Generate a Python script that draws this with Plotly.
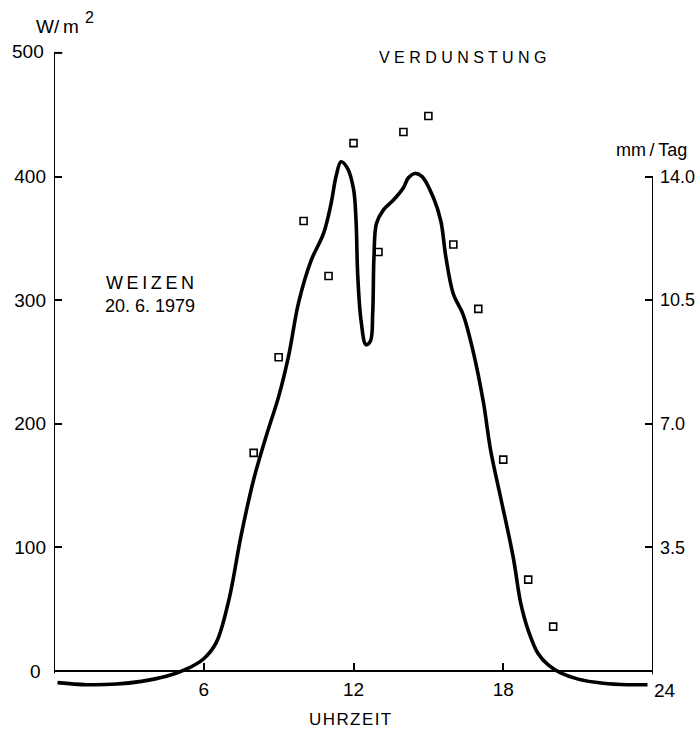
import plotly.graph_objects as go

# ---- data ----
curve_hour = [0.14, 1.3, 2.5, 3.5, 4.5, 5.3, 6.0, 6.5, 7.0, 7.5, 8.0, 8.5, 9.0, 9.4, 9.8,
              10.3, 10.8, 11.1, 11.3, 11.5, 11.75, 12.0, 12.1, 12.17, 12.3, 12.5, 12.68,
              12.77, 12.82, 12.92, 13.2, 13.6, 14.0, 14.2, 14.46, 14.75, 15.2, 15.5, 15.7,
              16.0, 16.4, 16.8, 17.2, 17.5, 17.9, 18.4, 18.7, 19.0, 19.4, 19.8, 20.3, 21.0,
              22.0, 23.0, 23.78]
curve_wm2 = [-9.3, -11, -10.5, -8.3, -4.2, 1.5, 10, 23, 57, 110, 155, 190, 222, 255, 298,
             332, 354, 378, 400, 412, 407, 390, 365, 320, 284, 264, 267,
             290, 335, 362, 373, 381, 391, 399, 402.5, 400, 383, 364, 335,
             305, 288, 258, 218, 178, 140, 92, 55, 33, 14, 5, -1.5, -6.5,
             -9.8, -11, -11]

meas_hour = [8, 9, 10, 11, 12, 13, 14, 15, 16, 17, 18, 19, 20]
meas_wm2 = [176.5, 253.8, 364, 319.5, 427, 339, 436, 449, 345, 293, 171, 74, 36]

left_ticks = [100, 200, 300, 400]
right_ticks = [3.5, 7.0, 10.5, 14.0]
right_tick_text = ["3.5", "7.0", "10.5", "14.0"]
x_ticks = [6, 12, 18]
WM2_PER_MM = 400 / 14.0  # 14 mm/Tag corresponds to 400 W/m2

# ---- layout geometry (screen pixels; page body margin removed by post_script) ----
W, H = 700, 733
L, R, T, B = 54, 47, 22, 31
YMIN, YMAX = -25, 525
PW, PH = W - L - R, H - T - B
FONT = "Liberation Sans, Arial, sans-serif"


def px(xs):
    return (xs - L) / PW


def py(ys):
    return (H - B - ys) / PH


fig = go.Figure()
fig.add_trace(go.Scatter(x=curve_hour, y=curve_wm2, mode="lines",
                         line=dict(color="black", width=3.6, shape="spline", smoothing=1.0),
                         hoverinfo="skip", showlegend=False))
fig.add_trace(go.Scatter(x=meas_hour, y=meas_wm2, mode="markers",
                         marker=dict(symbol="square-open", size=7, color="black",
                                     line=dict(width=1.6, color="black")),
                         showlegend=False))
# invisible trace to activate the right axis
fig.add_trace(go.Scatter(x=[None], y=[None], yaxis="y2", showlegend=False))

shapes = [
    dict(type="line", xref="x", yref="y", x0=0, x1=0, y0=-2, y1=500),
    dict(type="line", xref="x", yref="y", x0=0, x1=0.33, y0=500, y1=500),
    dict(type="line", xref="x", yref="y", x0=-0.18, x1=24, y0=0, y1=0),
    dict(type="line", xref="x", yref="y", x0=24, x1=24, y0=-2.5, y1=400),
]
for s in shapes:
    s["line"] = dict(color="black", width=2)
fig.update_layout(shapes=shapes)

xpos = (0 - YMIN) / (YMAX - YMIN)
tickfont = dict(family=FONT, size=19, color="black")
fig.update_layout(
    width=W, height=H,
    margin=dict(l=L, r=R, t=T, b=B, autoexpand=False),
    paper_bgcolor="white", plot_bgcolor="white",
    font=dict(family=FONT, size=19, color="black"),
    xaxis=dict(range=[0, 24], showgrid=False, zeroline=False, showline=False,
               anchor="free", position=xpos,
               tickmode="array", tickvals=x_ticks, ticktext=[str(v) for v in x_ticks],
               ticks="inside", ticklen=8, tickwidth=2, tickcolor="black", tickfont=tickfont,
               ticklabelstandoff=5, fixedrange=True),
    yaxis=dict(range=[YMIN, YMAX], showgrid=False, zeroline=False, showline=False,
               tickmode="array", tickvals=left_ticks,
               ticks="inside", ticklen=8, tickwidth=2, tickcolor="black", tickfont=tickfont,
               ticklabelstandoff=7, fixedrange=True),
    yaxis2=dict(range=[YMIN / WM2_PER_MM, YMAX / WM2_PER_MM], overlaying="y", side="right",
                showgrid=False, zeroline=False, showline=False,
                tickmode="array", tickvals=right_ticks, ticktext=right_tick_text,
                ticks="inside", ticklen=8, tickwidth=2, tickcolor="black",
                tickfont=dict(family=FONT, size=18, color="black"),
                ticklabelstandoff=6, fixedrange=True),
)

ann = [
    ("0", 35, 671, 19),
    ("500", 28, 52, 19),
    ("24", 665, 690, 19),
    ("W/\u2009m", 57, 27, 19),
    ("2", 89, 17, 16),
    ("V E R D U N S T U N G", 462, 57, 16),
    ("mm\u2009/\u2009Tag", 651, 150, 18),
    ("W\u2009E\u2009I\u2009Z\u2009E\u2009N", 150, 283, 18),
    ("20. 6. 1979", 150, 306, 18),
    ("U\u200aH\u200aR\u200aZ\u200aE\u200aI\u200aT", 350, 720, 17),
]
fig.update_layout(annotations=[
    dict(text=t, x=px(x), y=py(y), xref="paper", yref="paper", showarrow=False,
         xanchor="center", yanchor="middle", font=dict(family=FONT, size=s, color="black"))
    for t, x, y, s in ann
])

fig.write_html("out.html", config={"displayModeBar": False},
               post_script="document.body.style.margin='0';"
                           "document.body.style.overflow='hidden';")
